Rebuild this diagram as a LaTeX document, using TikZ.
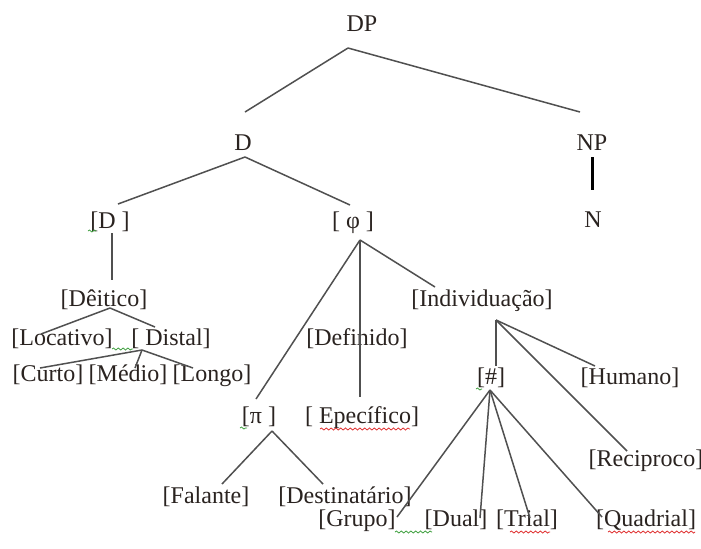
\documentclass[tikz,border=0pt]{standalone}
\usepackage{fontspec}
\setmainfont{Liberation Serif}
\usetikzlibrary{decorations.pathmorphing}
\definecolor{txt}{HTML}{2A2320}
\definecolor{ln}{HTML}{505050}
\definecolor{wavyred}{HTML}{E03030}
\definecolor{wavygreen}{HTML}{40A040}
\begin{document}
\begin{tikzpicture}[x=0.5pt,y=-0.5pt,
  lbl/.style={inner sep=0pt, text height=8.5pt, text depth=2.5pt, font=\fontsize{12}{14}\selectfont, text=txt},
  edge/.style={line width=0.75pt, draw=ln},
  thickedge/.style={line width=1.5pt, draw=black},
  squig/.style={decorate, decoration={snake, amplitude=0.5pt, segment length=2.4pt}, line width=0.4pt}]
\useasboundingbox[fill=white] (0,0) rectangle (701,548);
% nodes
\node[lbl] (DP) at (362,25) {DP};
\node[lbl] (D) at (243,144) {D};
\node[lbl] (NP) at (592,144) {NP};
\node[lbl] (N) at (593,221) {N};
\node[lbl] (Dbr) at (110,222) {[D ]};
\node[lbl] (phi) at (353,222) {[ φ ]};
\node[lbl] (deit) at (104,300) {[Dêitico]};
\node[lbl] (loc) at (62,339) {[Locativo]};
\node[lbl] (dist) at (171,339) {[ Distal]};
\node[lbl] (curto) at (48,375) {[Curto]};
\node[lbl] (medio) at (128,375) {[Médio]};
\node[lbl] (longo) at (212,375) {[Longo]};
\node[lbl] (indiv) at (482,300) {[Individuação]};
\node[lbl] (defin) at (357,339) {[Definido]};
\node[lbl] (pi) at (259,417) {[π ]};
\node[lbl] (espec) at (362,417) {[ Epecífico]};
\node[lbl] (hash) at (491,378) {[\#]};
\node[lbl] (humano) at (630,378) {[Humano]};
\node[lbl] (recip) at (646,460) {[Reciproco]};
\node[lbl] (falante) at (206,497) {[Falante]};
\node[lbl] (destin) at (345,497) {[Destinatário]};
\node[lbl] (grupo) at (357,520) {[Grupo]};
\node[lbl] (dual) at (456,520) {[Dual]};
\node[lbl] (trial) at (527,520) {[Trial]};
\node[lbl] (quadrial) at (646,520) {[Quadrial]};
% edges
\draw[edge] ([shift={(-14,23)}]DP.center) -- ([shift={(2,-32)}]D.center);
\draw[edge] ([shift={(-14,23)}]DP.center) -- ([shift={(-12,-32)}]NP.center);
\draw[thickedge] ([shift={(0,13)}]NP.center) -- ([shift={(-1,-31)}]N.center);
\draw[edge] ([shift={(2,13)}]D.center) -- ([shift={(8,-18)}]Dbr.center);
\draw[edge] ([shift={(2,13)}]D.center) -- ([shift={(-3,-17)}]phi.center);
\draw[edge] ([shift={(2,11)}]Dbr.center) -- ([shift={(8,-20)}]deit.center);
\draw[edge] ([shift={(6,8)}]deit.center) -- ([shift={(-21,-5)}]loc.center);
\draw[edge] ([shift={(6,8)}]deit.center) -- ([shift={(-16,-12)}]dist.center);
\draw[edge] ([shift={(-29,11)}]dist.center) -- ([shift={(-8,-7)}]curto.center);
\draw[edge] ([shift={(-29,11)}]dist.center) -- ([shift={(7,-7)}]medio.center);
\draw[edge] ([shift={(-29,11)}]dist.center) -- ([shift={(-19,-7)}]longo.center);
\draw[edge] ([shift={(7,18)}]phi.center) -- ([shift={(-3,-18)}]pi.center);
\draw[edge] ([shift={(7,18)}]phi.center) -- ([shift={(-2,-20)}]espec.center);
\draw[edge] ([shift={(7,18)}]phi.center) -- ([shift={(-47,-13)}]indiv.center);
\draw[edge] ([shift={(14,20)}]indiv.center) -- ([shift={(5,-12)}]hash.center);
\draw[edge] ([shift={(14,20)}]indiv.center) -- ([shift={(-35,-12)}]humano.center);
\draw[edge] ([shift={(14,20)}]indiv.center) -- ([shift={(-19,-9)}]recip.center);
\draw[edge] ([shift={(13,14)}]pi.center) -- ([shift={(16,-13)}]falante.center);
\draw[edge] ([shift={(13,14)}]pi.center) -- ([shift={(-22,-13)}]destin.center);
\draw[edge] ([shift={(-1,12)}]hash.center) -- ([shift={(40,-3)}]grupo.center);
\draw[edge] ([shift={(-1,12)}]hash.center) -- ([shift={(24,-2)}]dual.center);
\draw[edge] ([shift={(-1,12)}]hash.center) -- ([shift={(3,-2)}]trial.center);
\draw[edge] ([shift={(-1,12)}]hash.center) -- ([shift={(-44,-3)}]quadrial.center);
% spell-check underlines
\draw[squig, wavygreen] (88,231) -- (96,231);
\draw[squig, wavygreen] (112,349) -- (133,349);
\draw[squig, wavygreen] (240,428) -- (247,428);
\draw[squig, wavyred] (320,429) -- (410,429);
\draw[squig, wavygreen] (476,389) -- (482,389);
\draw[squig, wavygreen] (395,532) -- (432,532);
\draw[squig, wavyred] (510,532) -- (550,532);
\draw[squig, wavyred] (608,532) -- (695,532);
\end{tikzpicture}
\end{document}
